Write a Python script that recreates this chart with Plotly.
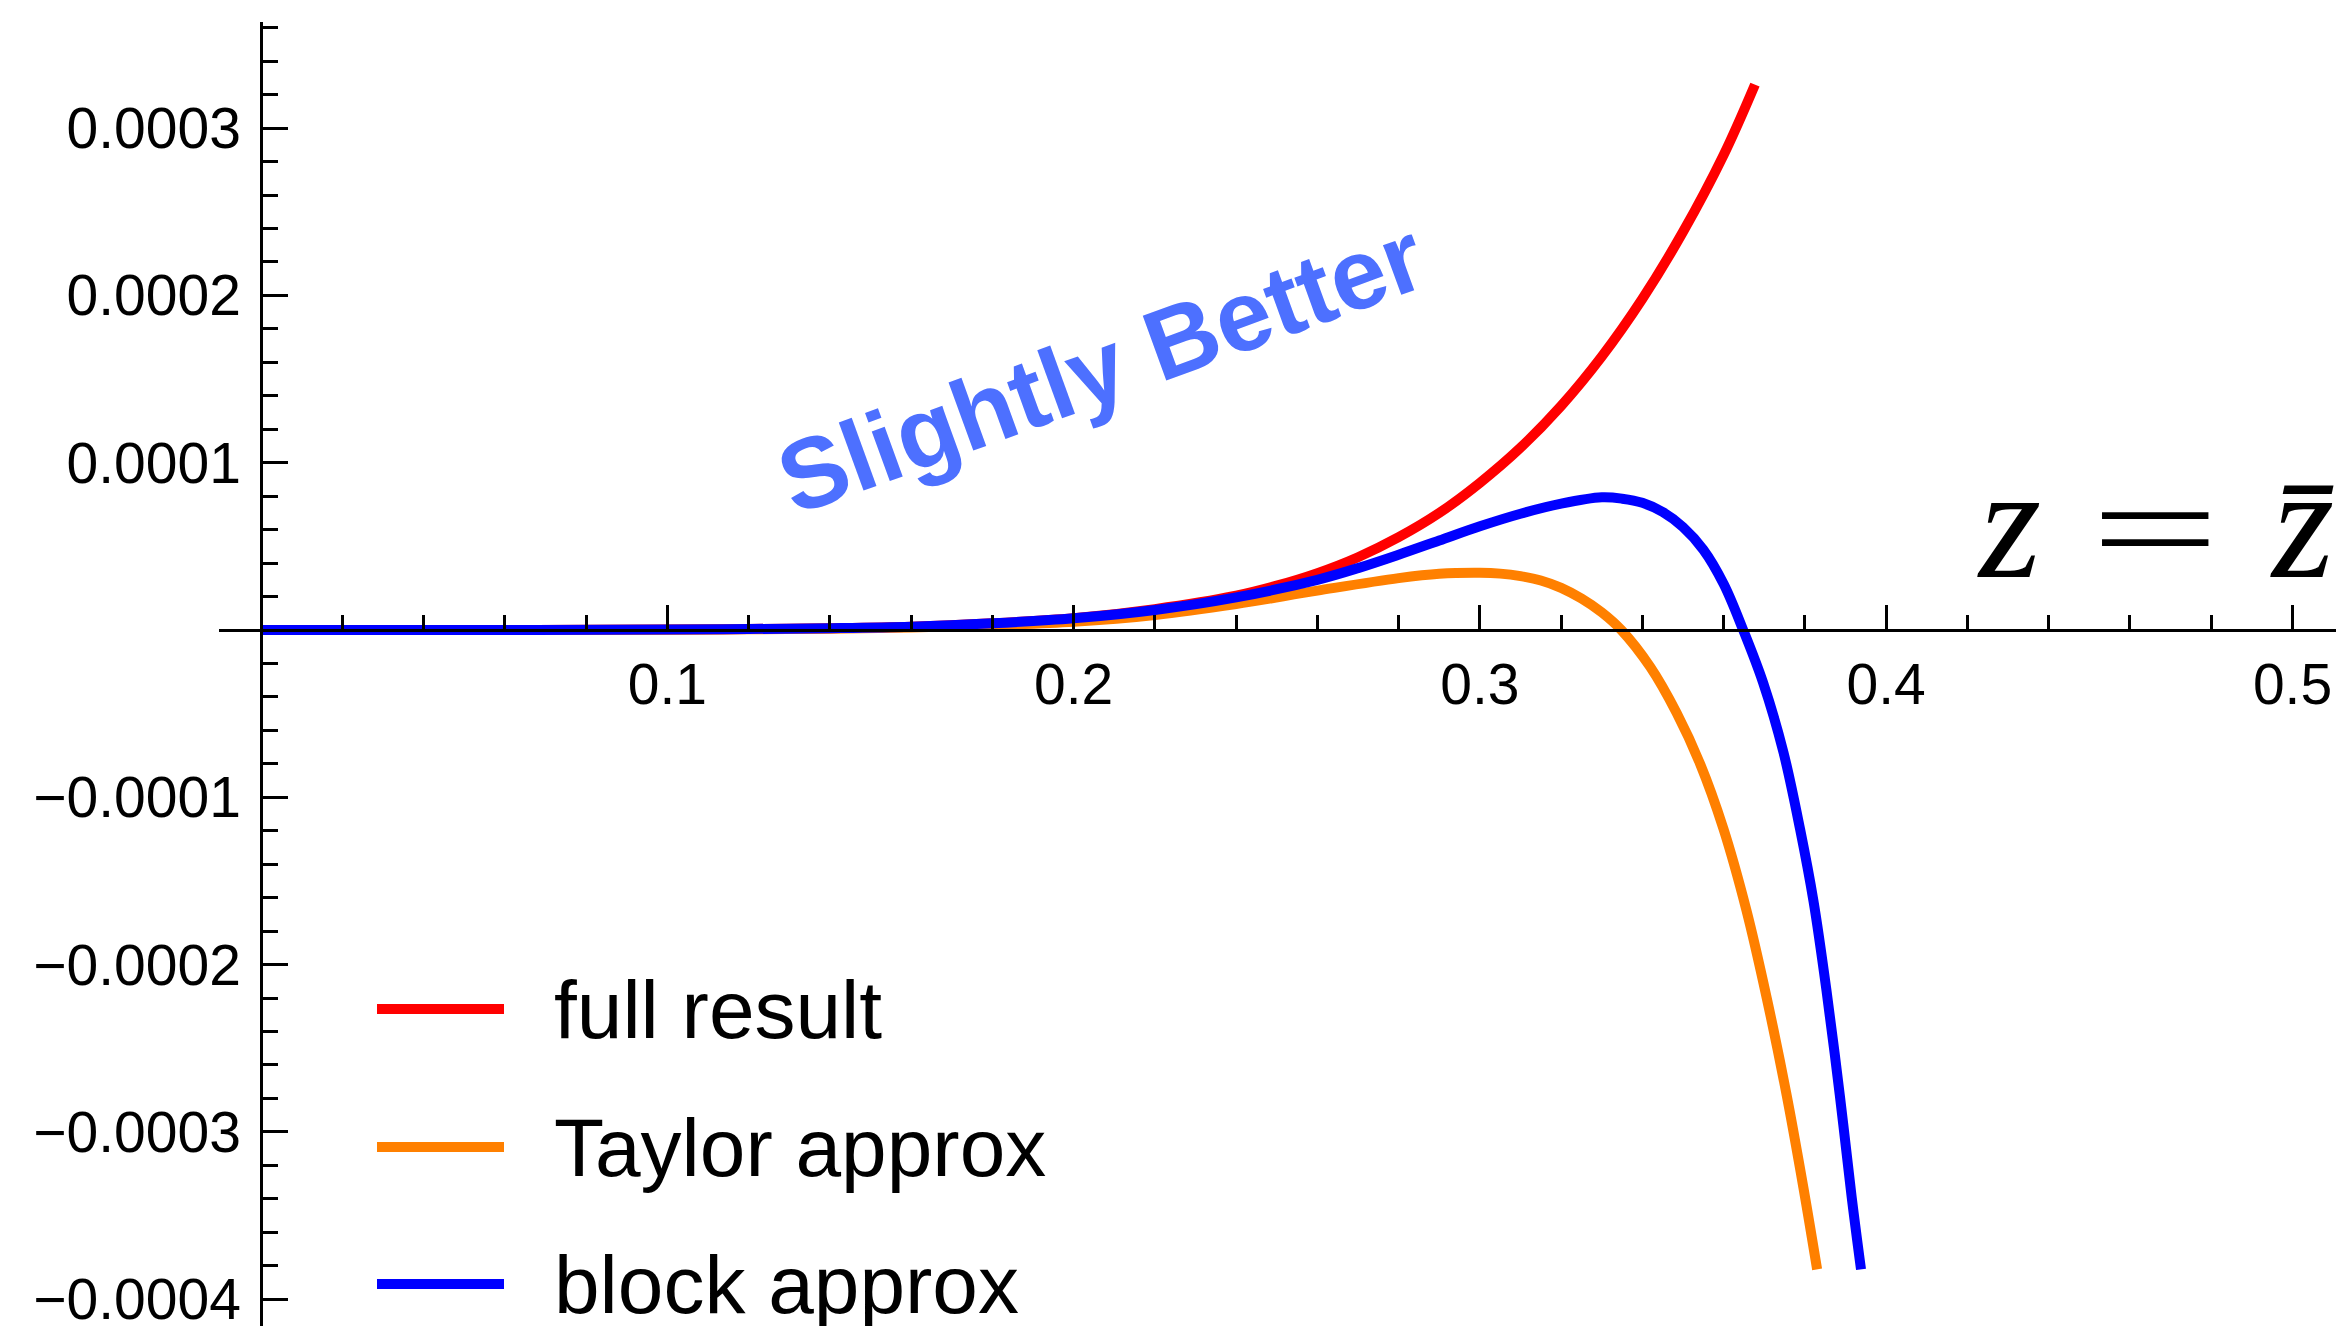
import plotly.graph_objects as go

# ---- data: sampled curves (z, value) ----
z_full = [0.0, 0.05, 0.10, 0.12, 0.14, 0.16, 0.18, 0.20, 0.22, 0.24, 0.25, 0.26, 0.27,
          0.28, 0.29, 0.30, 0.31, 0.32, 0.33, 0.34, 0.35, 0.36, 0.3677]
full_result = [0.0, 0.0, 0.3e-6, 0.6e-6, 1.1e-6, 2.0e-6, 4.0e-6, 7.0e-6, 1.25e-5, 2.05e-5,
               2.65e-5, 3.4e-5, 4.35e-5, 5.55e-5, 7.0e-5, 8.8e-5, 1.09e-4, 1.34e-4, 1.635e-4,
               1.98e-4, 2.38e-4, 2.84e-4, 3.26e-4]

z_taylor = [0.0, 0.05, 0.10, 0.12, 0.14, 0.16, 0.18, 0.20, 0.22, 0.24, 0.26, 0.28, 0.29,
            0.30, 0.305, 0.31, 0.315, 0.32, 0.325, 0.33, 0.3348, 0.3419, 0.3484, 0.3542,
            0.3599, 0.3656, 0.3706, 0.3755, 0.3796, 0.3830]
taylor_approx = [0.0, 0.0, 0.2e-6, 0.4e-6, 0.8e-6, 1.5e-6, 3.0e-6, 5.0e-6, 9.0e-6, 1.55e-5,
                 2.35e-5, 3.1e-5, 3.36e-5, 3.42e-5, 3.37e-5, 3.22e-5, 2.96e-5, 2.52e-5,
                 1.88e-5, 1.05e-5, 0.0, -2.2e-5, -4.95e-5, -8.0e-5, -1.185e-4, -1.675e-4,
                 -2.2e-4, -2.78e-4, -3.33e-4, -3.822e-4]

z_block = [0.0, 0.05, 0.10, 0.12, 0.14, 0.16, 0.18, 0.20, 0.22, 0.24, 0.26, 0.27, 0.28,
           0.29, 0.30, 0.31, 0.32, 0.33, 0.335, 0.34, 0.345, 0.35, 0.355, 0.36, 0.3648,
           0.3697, 0.3747, 0.3788, 0.3821, 0.3853, 0.3886, 0.3915, 0.3938]
block_approx = [0.0, 0.0, 0.3e-6, 0.6e-6, 1.1e-6, 2.0e-6, 4.0e-6, 7.0e-6, 1.2e-5, 1.95e-5,
                3.0e-5, 3.7e-5, 4.5e-5, 5.35e-5, 6.2e-5, 6.95e-5, 7.55e-5, 7.93e-5, 7.85e-5,
                7.6e-5, 7.05e-5, 6.15e-5, 4.8e-5, 2.75e-5, 0.0, -3.15e-5, -7.3e-5,
                -1.19e-4, -1.62e-4, -2.154e-4, -2.785e-4, -3.389e-4, -3.822e-4]

series_names = ["full result", "Taylor approx", "block approx"]
series_colors = ["#FF0000", "#FF8000", "#0000FF"]

x_tick_vals = [0.1, 0.2, 0.3, 0.4, 0.5]
x_tick_text = ["0.1", "0.2", "0.3", "0.4", "0.5"]
y_tick_vals = [-0.0004, -0.0003, -0.0002, -0.0001, 0.0001, 0.0002, 0.0003]
y_tick_text = ["\u22120.0004", "\u22120.0003", "\u22120.0002", "\u22120.0001",
               "0.0001", "0.0002", "0.0003"]

# ---- page geometry (pixels) ----
W, H = 2336, 1326
ORIGIN_X, ORIGIN_Y = 261, 630      # where the axes cross
PX_PER_X = 4063.0                  # pixels per unit of z
PX_PER_Y = 1.673e6                 # pixels per unit of value
AXIS_LEFT, AXIS_TOP = 219, 22      # start of the x axis line / top of the y axis line

x_range = [(AXIS_LEFT - ORIGIN_X) / PX_PER_X, (W - ORIGIN_X) / PX_PER_X]
y_range = [(ORIGIN_Y - H) / PX_PER_Y, (ORIGIN_Y - AXIS_TOP) / PX_PER_Y]

LINE_W = 10
SANS = "Liberation Sans, Arial, sans-serif"
TICK_FONT = dict(family=SANS, size=57, color="black")

fig = go.Figure()
for zs, vals, name, col in zip([z_full, z_taylor, z_block],
                               [full_result, taylor_approx, block_approx],
                               series_names, series_colors):
    fig.add_trace(go.Scatter(x=zs, y=vals, mode="lines", name=name,
                             line=dict(color=col, width=LINE_W, shape="spline", smoothing=1.0),
                             showlegend=False, hoverinfo="skip"))

fig.update_layout(
    width=W, height=H,
    margin=dict(l=0, r=0, t=0, b=0, pad=0, autoexpand=False),
    paper_bgcolor="white", plot_bgcolor="white",
    xaxis=dict(domain=[AXIS_LEFT / W, 1], range=x_range, anchor="free",
               position=(H - ORIGIN_Y) / H, showline=True, linecolor="black", linewidth=2.5,
               showgrid=False, zeroline=False, ticks="inside", ticklen=24, tickwidth=2.5,
               tickcolor="black", tickmode="array", tickvals=x_tick_vals, ticktext=x_tick_text,
               tickfont=TICK_FONT, ticklabelstandoff=4, ticklabeloverflow="allow",
               minor=dict(tickmode="linear", tick0=0, dtick=0.02, ticks="inside", ticklen=14,
                          tickwidth=2.5, tickcolor="black", showgrid=False)),
    yaxis=dict(domain=[0, 1 - AXIS_TOP / H], range=y_range, anchor="free",
               position=ORIGIN_X / W, showline=True, linecolor="black", linewidth=2.5,
               showgrid=False, zeroline=False, ticks="inside", ticklen=25, tickwidth=2.5,
               tickcolor="black", tickmode="array", tickvals=y_tick_vals, ticktext=y_tick_text,
               tickfont=TICK_FONT, ticklabelstandoff=8, ticklabeloverflow="allow",
               minor=dict(tickmode="linear", tick0=0, dtick=0.00002, ticks="inside", ticklen=15,
                          tickwidth=2.5, tickcolor="black", showgrid=False)),
)

# ---- legend (bottom left) ----
legend_rows_px = [1009, 1147, 1284]
for name, col, ypx in zip(series_names, series_colors, legend_rows_px):
    yp = 1 - ypx / H
    fig.add_shape(type="line", xref="paper", yref="paper", x0=377 / W, x1=504 / W,
                  y0=yp, y1=yp, line=dict(color=col, width=10))
    fig.add_annotation(xref="paper", yref="paper", x=552 / W, y=yp, text=name,
                       showarrow=False, xanchor="left", yanchor="middle",
                       font=dict(family=SANS, size=82, color="black"))

# ---- rotated remark ----
fig.add_annotation(xref="paper", yref="paper", x=1101 / W, y=1 - 367 / H,
                   text="<b>Slightly Better</b>", showarrow=False, textangle=-20,
                   xanchor="center", yanchor="middle",
                   font=dict(family=SANS, size=100, color="#4D70FF"))

# ---- z = z-bar label ----
SERIF = dict(family="Liberation Serif, Times New Roman, serif", size=160, color="black")
fig.add_annotation(xref="paper", yref="paper", x=1975 / W, y=1 - 523 / H, text="<i>z</i>",
                   showarrow=False, xanchor="left", yanchor="middle", font=SERIF)
fig.add_annotation(xref="paper", yref="paper", x=2155 / W, y=1 - 523 / H, text="=",
                   showarrow=False, xanchor="center", yanchor="middle",
                   font=dict(family="DejaVu Sans", size=170, color="black", weight=200))
fig.add_annotation(xref="paper", yref="paper", x=2268 / W, y=1 - 523 / H,
                   text="<i>z\u0304</i>", showarrow=False, xanchor="left", yanchor="middle",
                   font=SERIF)

fig.write_html("out.html")
